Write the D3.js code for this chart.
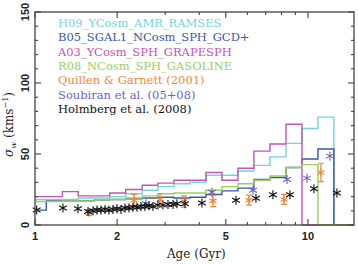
<!DOCTYPE html>
<html>
<head>
<meta charset="utf-8">
<script src="https://cdn.jsdelivr.net/npm/d3@7"></script>
<style>
  body { margin: 0; background: #fff; }
  .tick-label { font-family: "Liberation Sans", Arial, sans-serif; font-weight: bold; font-size: 11px; fill: #222; }
  .serif { font-family: "DejaVu Serif", serif; }
</style>
</head>
<body>
<div id="chart"></div>
<script>
// bin edges of the simulated histograms (Gyr)
const binEdges = [0.96, 1.10, 1.26, 1.44, 1.65, 1.88, 2.15, 2.47, 2.82, 3.23, 3.70, 4.23, 4.84, 5.54, 6.34, 7.26, 8.31, 9.51, 10.88, 12.45];

// sigma_w per bin (km/s)
const h09 = [18, 18, 18, 19, 19, 20, 22, 24.5, 27, 29, 30, 35, 35, 38, 42, 48, 57.5, 68, 76];
const b05 = [10.5, 17, 17, 17, 17.5, 18, 18.5, 19, 19.5, 19, 19.5, 21.5, 24, 26, 32, 33.5, 40.5, 46.5, 53.5];
const a03 = [20, 20, 23.5, 20.5, 20.5, 22.5, 25, 28, 29.5, 31.5, 31.5, 37, 31.5, 40, 52, 57, 71, 0, 0];
const r08 = [16.5, 16.5, 17, 17, 17.5, 18, 19, 20.5, 22, 22.5, 22.5, 24.5, 27, 29, 31.5, 34.5, 40.5, 42.5, 0];

// observations
const quillenAge = [1.577, 2.305, 2.870, 3.515, 4.487, 6.08, 8.17, 11.16];
const quillenSigma = [8.7, 17.5, 18, 16.5, 17, 17.5, 18, 37];
const quillenErr = [2, 4, 4, 4, 4, 3.5, 3.5, 6.5];

const soubiranAge = [2.549, 4.45, 6.29, 8.38, 9.92, 12.04];
const soubiranSigma = [15, 23, 24.5, 32, 33, 48.5];

const holmbergAge = [1.014, 1.266, 1.437, 1.564, 1.631, 1.687, 1.745, 1.805, 1.866, 1.931, 1.997, 2.066, 2.137, 2.210, 2.286, 2.364, 2.445, 2.529, 2.616, 2.706, 2.822, 2.944, 3.071, 3.203, 3.313, 3.544, 4.090, 5.449, 6.450, 7.443, 8.592, 10.52, 12.77];
const holmbergSigma = [10.5, 12, 11.5, 9.5, 10, 10.5, 10.5, 11, 10.5, 11, 11.5, 11, 12, 12, 12.5, 12.5, 13, 13, 13.5, 13, 14, 14, 14.5, 14.5, 15, 15, 15.5, 17.5, 18.8, 21.3, 21.3, 25.5, 22.5];

const xTicks = [1, 2, 5, 10];
const xMinorTicks = [3, 4, 6, 7, 8, 9];
const yTicks = [0, 50, 100, 150];
const yMinorTicks = [10, 20, 30, 40, 60, 70, 80, 90, 110, 120, 130, 140];

const legendLabels = ["H09_YCosm_AMR_RAMSES", "B05_SGAL1_NCosm_SPH_GCD+", "A03_YCosm_SPH_GRAPESPH",
  "R08_NCosm_SPH_GASOLINE", "Quillen & Garnett (2001)", "Soubiran et al. (05+08)", "Holmberg et al. (2008)"];
const legendColours = ["#72d5de", "#3a58a8", "#bf55b5", "#9ad05a", "#f0873a", "#6a5fc8", "#111"];

const width = 358, height = 264,
  margin = { top: 12, right: 4, bottom: 39, left: 35 },
  chartWidth = width - margin.left - margin.right,
  chartHeight = height - margin.top - margin.bottom;

const xScale = d3.scaleLog().domain([1, 14.75]).range([0, chartWidth]);
const yScale = d3.scaleLinear().domain([0, 150]).range([chartHeight, 0]);

const svg = d3.select("#chart").append("svg")
  .attr("width", width).attr("height", height);

svg.append("defs").append("clipPath").attr("id", "plotclip")
  .append("rect").attr("width", chartWidth).attr("height", chartHeight + 1);

const chart = svg.append("g").attr("transform", `translate(${margin.left}, ${margin.top})`);

// histograms
const histSeries = [
  { values: h09, colour: legendColours[0] },
  { values: b05, colour: legendColours[1] },
  { values: a03, colour: legendColours[2] },
  { values: r08, colour: legendColours[3] }
];

function histPath(values) {
  const pts = [];
  values.forEach((v, i) => {
    pts.push([xScale(binEdges[i]), yScale(v)]);
    pts.push([xScale(binEdges[i + 1]), yScale(v)]);
  });
  pts.push([xScale(binEdges[binEdges.length - 1]), yScale(0)]);
  pts.push([xScale(20), yScale(0)]);
  return d3.line()(pts);
}

const plot = chart.append("g").attr("clip-path", "url(#plotclip)");

plot.selectAll(".hist").data(histSeries).enter().append("path")
  .attr("class", "hist")
  .attr("d", d => histPath(d.values))
  .attr("fill", "none")
  .attr("stroke", d => d.colour)
  .attr("stroke-width", 1.4);

// asterisk marker
function asterisk(r) {
  let p = `M0,${-r}L0,${r}`;
  [30, -30].forEach(a => {
    const dx = r * Math.cos(a * Math.PI / 180), dy = r * Math.sin(a * Math.PI / 180);
    p += `M${-dx},${-dy}L${dx},${dy}`;
  });
  return p;
}

const marks = chart.append("g");

// Quillen & Garnett with error bars
const quillen = quillenAge.map((a, i) => ({ age: a, sigma: quillenSigma[i], err: quillenErr[i] }));
const qg = marks.selectAll(".quillen").data(quillen).enter().append("g")
  .attr("class", "quillen")
  .attr("stroke", legendColours[4]).attr("stroke-width", 1.2).attr("fill", "none");
qg.append("path").attr("d", d => {
  const x = xScale(d.age), y0 = yScale(d.sigma - d.err), y1 = yScale(d.sigma + d.err);
  return `M${x},${y0}L${x},${y1}M${x - 3},${y0}L${x + 3},${y0}M${x - 3},${y1}L${x + 3},${y1}`;
});
qg.append("path").attr("transform", d => `translate(${xScale(d.age)},${yScale(d.sigma)})`)
  .attr("d", asterisk(4));

// Soubiran
marks.selectAll(".soubiran").data(soubiranAge.map((a, i) => [a, soubiranSigma[i]])).enter()
  .append("path").attr("class", "soubiran")
  .attr("transform", d => `translate(${xScale(d[0])},${yScale(d[1])})`)
  .attr("d", asterisk(4.5))
  .attr("stroke", legendColours[5]).attr("stroke-width", 1.1).attr("fill", "none");

// Holmberg
marks.selectAll(".holmberg").data(holmbergAge.map((a, i) => [a, holmbergSigma[i]])).enter()
  .append("path").attr("class", "holmberg")
  .attr("transform", d => `translate(${xScale(d[0])},${yScale(d[1])})`)
  .attr("d", asterisk(4.5))
  .attr("stroke", legendColours[6]).attr("stroke-width", 1.1).attr("fill", "none");

// frame
chart.append("rect").attr("width", chartWidth).attr("height", chartHeight)
  .attr("fill", "none").attr("stroke", "#444").attr("stroke-width", 1.3);

// ticks (inward, all four sides)
const tickG = chart.append("g").attr("stroke", "#444").attr("stroke-width", 1.1);
function xTick(v, len) {
  const x = xScale(v);
  tickG.append("line").attr("x1", x).attr("x2", x).attr("y1", chartHeight).attr("y2", chartHeight - len);
  tickG.append("line").attr("x1", x).attr("x2", x).attr("y1", 0).attr("y2", len);
}
function yTick(v, len) {
  const y = yScale(v);
  tickG.append("line").attr("x1", 0).attr("x2", len).attr("y1", y).attr("y2", y);
  tickG.append("line").attr("x1", chartWidth).attr("x2", chartWidth - len).attr("y1", y).attr("y2", y);
}
xTicks.forEach(v => xTick(v, 6));
xMinorTicks.forEach(v => xTick(v, 3));
yTicks.forEach(v => yTick(v, 6));
yMinorTicks.forEach(v => yTick(v, 3));

// tick labels
chart.selectAll(".xlab").data(xTicks).enter().append("text")
  .attr("class", "tick-label")
  .attr("x", d => xScale(d)).attr("y", chartHeight + 15)
  .attr("text-anchor", "middle").text(d => d);

chart.selectAll(".ylab").data(yTicks).enter().append("text")
  .attr("class", "tick-label")
  .attr("transform", d => `translate(-6, ${yScale(d)}) rotate(-90)`)
  .attr("text-anchor", "middle").text(d => d);

// axis titles
chart.append("text").attr("class", "serif")
  .attr("x", xScale(3.9)).attr("y", chartHeight + 33)
  .attr("text-anchor", "middle").attr("font-size", 12).attr("fill", "#222")
  .text("Age (Gyr)");

const yt = chart.append("text").attr("class", "serif")
  .attr("transform", `translate(-22, ${chartHeight / 2 + 6}) rotate(-90)`)
  .attr("text-anchor", "middle").attr("font-size", 12).attr("fill", "#222");
yt.append("tspan").attr("font-style", "italic").text("σ");
yt.append("tspan").attr("font-size", 8).attr("font-style", "italic").attr("dy", 3).text("w");
yt.append("tspan").attr("dy", -3).text(" (kms");
yt.append("tspan").attr("font-size", 8).attr("dy", -5).text("−1");
yt.append("tspan").attr("dy", 5).text(")");

// legend
chart.selectAll(".legend").data(legendLabels).enter().append("text")
  .attr("class", "serif legend")
  .attr("x", 23).attr("y", (d, i) => 15 + i * 14.3)
  .attr("font-size", 11.5)
  .attr("fill", (d, i) => legendColours[i])
  .text(d => d);
</script>
</body>
</html>
